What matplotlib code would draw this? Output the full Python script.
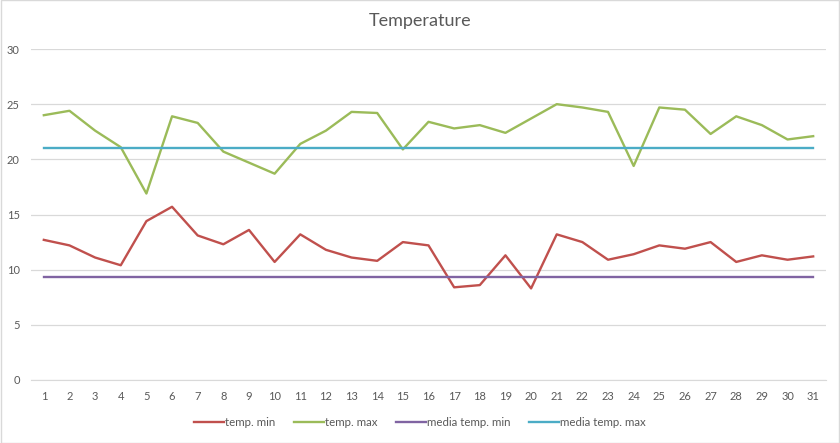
import numpy as np
import matplotlib
matplotlib.use('Agg')
import matplotlib.pyplot as plt

# Data
days = list(range(1, 32))
temp_min = [12.7, 12.2, 11.1, 10.4, 14.4, 15.7, 13.1, 12.3, 13.6, 10.7,
            13.2, 11.8, 11.1, 10.8, 12.5, 12.2, 8.4, 8.6, 11.3, 8.3,
            13.2, 12.5, 10.9, 11.4, 12.2, 11.9, 12.5, 10.7, 11.3, 10.9, 11.2]
temp_max = [24.0, 24.4, 22.6, 21.1, 16.9, 23.9, 23.3, 20.7, 19.7, 18.7,
            21.4, 22.6, 24.3, 24.2, 20.9, 23.4, 22.8, 23.1, 22.4, 23.7,
            25.0, 24.7, 24.3, 19.4, 24.7, 24.5, 22.3, 23.9, 23.1, 21.8, 22.1]
media_min = 9.35
media_max = 21.05
y_ticks = [0, 5, 10, 15, 20, 25, 30]

plt.rcParams['font.family'] = ['Lato', 'DejaVu Sans']

fig = plt.figure(figsize=(8.4, 4.43), dpi=100)
ax = fig.add_axes([31 / 840, 1 - 380 / 443, (826 - 31) / 840, (380 - 49) / 443])

ax.plot(days, temp_min, color='#C0504D', linewidth=1.7, label='temp. min')
ax.plot(days, temp_max, color='#9BBB59', linewidth=1.7, label='temp. max')
ax.plot(days, [media_min] * len(days), color='#8064A2', linewidth=1.7, label='media temp. min')
ax.plot(days, [media_max] * len(days), color='#4BACC6', linewidth=1.7, label='media temp. max')

ax.set_xlim(0.5, 31.5)
ax.set_ylim(0, 30)
ax.set_xticks(days)
ax.set_yticks(y_ticks)
ax.tick_params(axis='both', length=0, labelsize=8, labelcolor='#595959')
ax.tick_params(axis='x', pad=8)
ax.tick_params(axis='y', pad=8)
ax.grid(True, axis='y', color='#D9D9D9', linewidth=0.9)
ax.set_axisbelow(True)
for side in ['top', 'right', 'left']:
    ax.spines[side].set_visible(False)
ax.spines['bottom'].set_color('#D9D9D9')

fig.text(0.5, 1 - 21 / 443, 'Temperature', ha='center', va='center',
         fontsize=13, color='#595959')

fig.legend(loc='center', bbox_to_anchor=(0.5, 1 - 423 / 443), ncol=4,
           frameon=False, fontsize=8.3, handlelength=2.6, handletextpad=0.1,
           columnspacing=1.6, labelcolor='#595959')

# light border like the original chart area
fig.patches.append(plt.Rectangle((0.001, 0.001), 0.998, 0.998, transform=fig.transFigure,
                                 fill=False, edgecolor='#D9D9D9', linewidth=1))

fig.savefig('out.png', dpi=100)
